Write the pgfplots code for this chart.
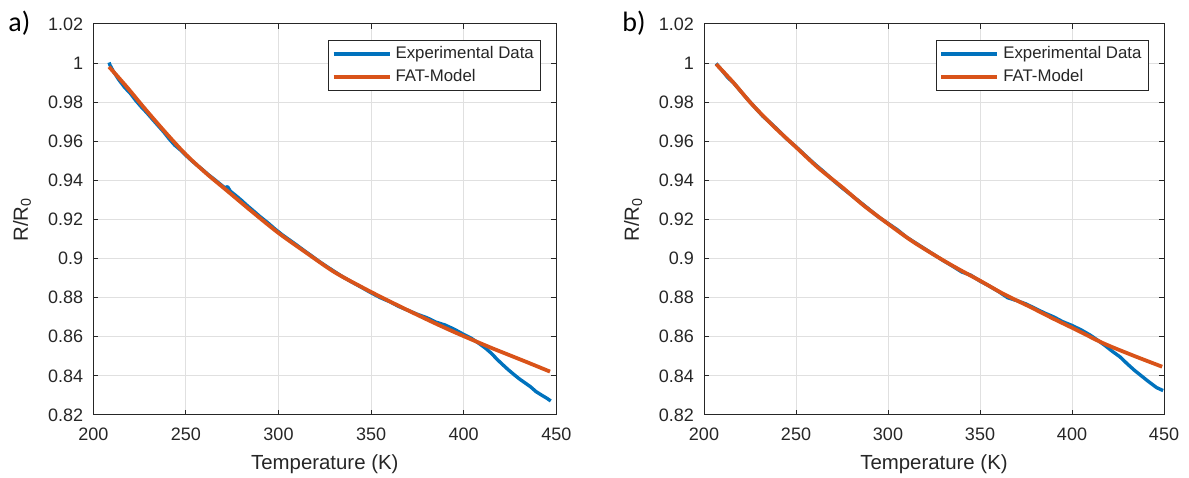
\documentclass[border=0pt]{standalone}
\usepackage{fontspec}
\setmainfont{Liberation Sans}
\newfontfamily\calibri{Carlito}
\usepackage{pgfplots}
\pgfplotsset{compat=1.18}

\definecolor{mblue}{rgb}{0,0.447,0.741}
\definecolor{morange}{rgb}{0.85,0.325,0.098}
\definecolor{axgray}{rgb}{0.15,0.15,0.15}

\pgfplotsset{
  rpanel/.style={
    scale only axis,
    height=195.5pt,
    xmin=200, xmax=450, ymin=0.82, ymax=1.02,
    xtick={200,250,300,350,400,450},
    ytick={0.82,0.84,0.86,0.88,0.9,0.92,0.94,0.96,0.98,1,1.02},
    yticklabels={0.82,0.84,0.86,0.88,0.9,0.92,0.94,0.96,0.98,1,1.02},
    grid=major,
    major grid style={color=black!12, line width=0.5pt},
    axis line style={axgray, line width=0.5pt},
    tick style={axgray, line width=0.5pt},
    tick align=inside, major tick length=2.5pt,
    xtick pos=both, ytick pos=both,
    ticklabel style={font=\fontsize{9}{10}\selectfont, text=axgray},
    /pgf/number format/assume math mode=true,
    xticklabel shift=3pt, yticklabel shift=1.5pt,
    label style={font=\fontsize{10.2}{12}\selectfont, text=axgray},
    xlabel={Temperature (K)},
    ylabel={R/R\textsubscript{0}},
    xlabel style={at={(axis description cs:0.5,-0.125)}, anchor=center},
    ylabel style={at={(axis description cs:-0.154,0.5)}, anchor=center},
    legend style={at={(rel axis cs:1,1)}, anchor=north east,
      xshift=-7.5pt, yshift=-8pt, draw=axgray, line width=0.5pt,
      font=\fontsize{8.4}{10}\selectfont, text=axgray,
      cells={anchor=west}, inner xsep=1.5pt, inner ysep=1pt, row sep=0pt},
    legend image code/.code={\draw[#1, line width=1.9pt] (0pt,0pt) -- (28pt,0pt);},
    exp/.style={mblue, line width=1.7pt, line join=round},
    fat/.style={morange, line width=1.9pt},
  }
}

\begin{document}
\begin{tikzpicture}
\useasboundingbox (0pt,0pt) rectangle (594.5pt,238.5pt);

% panel a
\begin{axis}[rpanel, width=231.5pt, at={(46.65pt,31pt)}, anchor=south west]
\addplot[exp] coordinates {
(208.5,1.0003) (209,0.9990) (211,0.9955) (214,0.9912) (217,0.9875)
(220,0.9845) (223,0.9808) (226,0.9775) (229,0.9745) (232,0.9712)
(235,0.9680) (238,0.9648) (241,0.9612) (244,0.9580) (247,0.9556)
(250,0.9528) (253,0.9502) (256,0.9478) (259,0.9455) (262,0.9430)
(265,0.9408) (268,0.9385) (271,0.9362) (272.5,0.9368) (274,0.9345)
(277,0.9322) (280,0.9298) (283,0.9272) (286,0.9248) (290,0.9215)
(294,0.9185) (298,0.9152) (302,0.9122) (306,0.9095) (310,0.9068)
(314,0.9040) (318,0.9013) (322,0.8985) (326,0.8960) (330,0.8935)
(335,0.8905) (340,0.8878) (345,0.8852) (350,0.8825) (355,0.8800)
(360,0.8780) (365,0.8755) (370,0.8735) (375,0.8715) (380,0.8698)
(385,0.8675) (390,0.8660) (395,0.8638) (400,0.8612) (404,0.8593)
(408,0.8568) (412,0.8540) (415,0.8515) (418,0.8485) (421,0.8458)
(424,0.8432) (427,0.8408) (430,0.8385) (433,0.8365) (436,0.8345)
(439,0.8320) (442,0.8302) (445,0.8285) (447,0.8272)
};
\addlegendentry{Experimental Data}
\addplot[fat, smooth] coordinates {
(208.5,0.9981) (218,0.9879) (228,0.9765) (239,0.9645) (250,0.9532)
(261,0.9436) (272,0.9349) (286,0.9238) (300,0.9131) (315,0.9030)
(330,0.8932) (345,0.8854) (355,0.8805) (365,0.8758) (375,0.8712)
(385,0.8667) (395,0.8624) (405,0.8583) (415,0.8543) (425,0.8505)
(435,0.8467) (446.6,0.8422)
};
\addlegendentry{FAT-Model}
\end{axis}

% panel b
\begin{axis}[rpanel, width=230pt, at={(352pt,31pt)}, anchor=south west]
\addplot[exp] coordinates {
(206.6,0.9998) (210,0.9960) (213,0.9925) (216,0.9900) (220,0.9855)
(224,0.9812) (228,0.9770) (232,0.9728) (236,0.9695) (240,0.9660)
(245,0.9612) (250,0.9572) (255,0.9528) (260,0.9485) (265,0.9445)
(270,0.9402) (275,0.9362) (280,0.9325) (285,0.9288) (290,0.9250)
(295,0.9212) (300,0.9180) (305,0.9148) (310,0.9110) (315,0.9080)
(320,0.9050) (325,0.9020) (330,0.8990) (335,0.8962) (340,0.8932)
(345,0.8915) (350,0.8885) (355,0.8860) (360,0.8832) (365,0.8800)
(370,0.8785) (375,0.8768) (380,0.8745) (385,0.8722) (390,0.8702)
(395,0.8677) (400,0.8658) (405,0.8635) (410,0.8608) (414,0.8582)
(418,0.8555) (422,0.8525) (426,0.8498) (430,0.8462) (434,0.8428)
(438,0.8398) (442,0.8368) (446,0.8340) (449.5,0.8325)
};
\addlegendentry{Experimental Data}
\addplot[fat, smooth] coordinates {
(206.6,0.9995) (216,0.9900) (226,0.9790) (238,0.9675) (250,0.9570)
(262,0.9465) (275,0.9366) (287,0.9270) (300,0.9178) (313,0.9090)
(327,0.9008) (338,0.8948) (350,0.8887) (363,0.8818) (377,0.8754)
(390,0.8692) (402.5,0.8635) (417,0.8567) (433,0.8505) (449,0.8447)
};
\addlegendentry{FAT-Model}
\end{axis}

\node[anchor=base west, inner sep=0pt, font=\calibri\fontsize{14}{16}\selectfont] at (4pt,222.5pt) {a)};
\node[anchor=base west, inner sep=0pt, font=\calibri\fontsize{14}{16}\selectfont] at (311pt,222.5pt) {b)};
\end{tikzpicture}
\end{document}
